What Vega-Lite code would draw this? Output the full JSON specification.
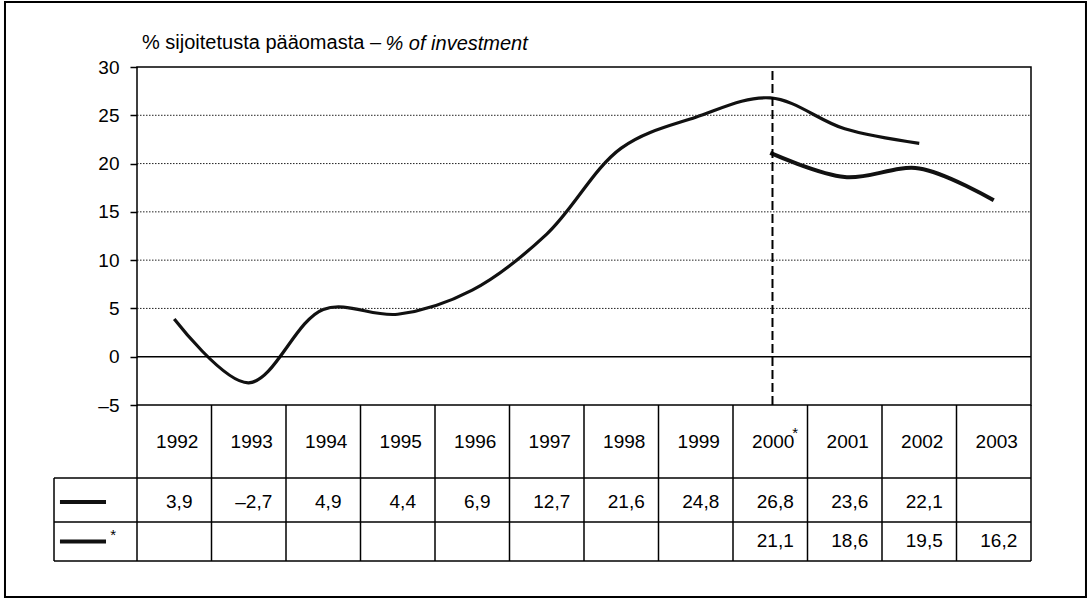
{
  "$schema": "https://vega.github.io/schema/vega-lite/v6.json",
  "width": 894,
  "height": 338,
  "autosize": {"type": "none"},
  "padding": {"left": 137, "top": 67, "right": 61, "bottom": 194},
  "background": "white",
  "config": {
    "font": "Liberation Sans",
    "view": {"stroke": "black", "strokeWidth": 1.5},
    "locale": {"number": {"decimal": ",", "thousands": "\u00a0", "grouping": [3], "currency": ["", " €"], "minus": "–"}}
  },
  "datasets": {
    "main": [
      {"year": 1992, "s1": 3.9, "s2": null},
      {"year": 1993, "s1": -2.7, "s2": null},
      {"year": 1994, "s1": 4.9, "s2": null},
      {"year": 1995, "s1": 4.4, "s2": null},
      {"year": 1996, "s1": 6.9, "s2": null},
      {"year": 1997, "s1": 12.7, "s2": null},
      {"year": 1998, "s1": 21.6, "s2": null},
      {"year": 1999, "s1": 24.8, "s2": null},
      {"year": 2000, "s1": 26.8, "s2": 21.1},
      {"year": 2001, "s1": 23.6, "s2": 18.6},
      {"year": 2002, "s1": 22.1, "s2": 19.5},
      {"year": 2003, "s1": null, "s2": 16.2}
    ],
    "grid": [{"v": 5}, {"v": 10}, {"v": 15}, {"v": 20}, {"v": 25}],
    "one": [{"k": 1}]
  },
  "layer": [
    {
      "data": {"name": "main"},
      "transform": [{"filter": "datum.s1 != null"}],
      "mark": {"type": "line", "color": "#111", "strokeWidth": 3.2, "interpolate": "catmull-rom"},
      "encoding": {
        "x": {"field": "year", "type": "quantitative", "scale": {"domain": [1991.5, 2003.5], "nice": false, "zero": false}, "axis": null},
        "y": {
          "field": "s1", "type": "quantitative",
          "scale": {"domain": [-5, 30], "nice": false, "zero": false},
          "axis": {
            "values": [-5, 0, 5, 10, 15, 20, 25, 30],
            "format": "d",
            "grid": false,
            "domain": false,
            "ticks": true,
            "tickSize": 7,
            "tickColor": "black",
            "tickWidth": 1.5,
            "labelFontSize": 19,
            "labelPadding": 11,
            "labelColor": "black",
            "title": "% of investment",
            "titleAngle": 0,
            "titleX": 248,
            "titleY": -24,
            "titleAlign": "left",
            "titleBaseline": "middle",
            "titleFontStyle": "italic",
            "titleFontWeight": "normal",
            "titleFontSize": 20,
            "titleColor": "black"
          }
        }
      }
    },
    {
      "data": {"name": "main"},
      "transform": [{"filter": "datum.s2 != null"}],
      "mark": {"type": "line", "color": "#111", "strokeWidth": 4, "interpolate": "catmull-rom"},
      "encoding": {"x": {"field": "year", "type": "quantitative"}, "y": {"field": "s2", "type": "quantitative"}}
    },
    {
      "data": {"name": "grid"},
      "mark": {"type": "rule", "color": "#222", "strokeWidth": 1, "strokeDash": [1.5, 1.5]},
      "encoding": {"x": {"datum": 1991.5}, "x2": {"datum": 2003.5}, "y": {"field": "v", "type": "quantitative"}}
    },
    {
      "data": {"name": "one"},
      "mark": {"type": "rule", "color": "black", "strokeWidth": 1.5},
      "encoding": {"x": {"datum": 1991.5}, "x2": {"datum": 2003.5}, "y": {"datum": 0}}
    },
    {
      "data": {"name": "one"},
      "mark": {"type": "rule", "color": "black", "strokeWidth": 2, "strokeDash": [9, 4]},
      "encoding": {"x": {"datum": 2000.03}, "y": {"datum": -5}, "y2": {"datum": 30}}
    },
    {
      "data": {"name": "main"},
      "mark": {"type": "rule", "color": "black", "strokeWidth": 1.5, "xOffset": 37.25},
      "encoding": {"x": {"field": "year", "type": "quantitative"}, "y": {"datum": -5}, "y2": {"datum": -21.15}}
    },
    {
      "data": {"name": "one"},
      "mark": {"type": "rule", "color": "black", "strokeWidth": 1.5},
      "encoding": {"x": {"datum": 1991.5}, "y": {"datum": -5}, "y2": {"datum": -21.15}}
    },
    {
      "data": {"name": "one"},
      "mark": {"type": "rule", "color": "black", "strokeWidth": 1.5},
      "encoding": {"x": {"datum": 1990.386}, "y": {"datum": -12.56}, "y2": {"datum": -21.15}}
    },
    {
      "data": {"name": "one"},
      "mark": {"type": "rule", "color": "black", "strokeWidth": 1.5},
      "encoding": {"x": {"datum": 1990.386}, "x2": {"datum": 2003.5}, "y": {"datum": -12.56}}
    },
    {
      "data": {"name": "one"},
      "mark": {"type": "rule", "color": "black", "strokeWidth": 1.5},
      "encoding": {"x": {"datum": 1990.386}, "x2": {"datum": 2003.5}, "y": {"datum": -17.12}}
    },
    {
      "data": {"name": "one"},
      "mark": {"type": "rule", "color": "black", "strokeWidth": 1.5},
      "encoding": {"x": {"datum": 1990.386}, "x2": {"datum": 2003.5}, "y": {"datum": -21.15}}
    },
    {
      "data": {"name": "main"},
      "mark": {"type": "text", "fontSize": 19, "color": "black", "baseline": "middle", "dx": 3},
      "encoding": {"x": {"field": "year", "type": "quantitative"}, "y": {"datum": -8.8}, "text": {"field": "year", "type": "nominal"}}
    },
    {
      "data": {"name": "main"},
      "transform": [{"filter": "datum.year == 2000"}],
      "mark": {"type": "text", "fontSize": 15, "color": "black", "baseline": "middle", "dx": 25, "dy": -9, "text": "*"},
      "encoding": {"x": {"field": "year", "type": "quantitative"}, "y": {"datum": -8.8}}
    },
    {
      "data": {"name": "main"},
      "transform": [{"filter": "datum.s1 != null"}],
      "mark": {"type": "text", "fontSize": 19, "color": "black", "baseline": "middle", "dx": 5},
      "encoding": {"x": {"field": "year", "type": "quantitative"}, "y": {"datum": -15.04}, "text": {"field": "s1", "type": "quantitative", "format": ".1f"}}
    },
    {
      "data": {"name": "main"},
      "transform": [{"filter": "datum.s2 != null"}],
      "mark": {"type": "text", "fontSize": 19, "color": "black", "baseline": "middle", "dx": 5},
      "encoding": {"x": {"field": "year", "type": "quantitative"}, "y": {"datum": -19.13}, "text": {"field": "s2", "type": "quantitative", "format": ".1f"}}
    },
    {
      "data": {"name": "one"},
      "mark": {"type": "rule", "color": "#111", "strokeWidth": 4},
      "encoding": {"x": {"datum": 1990.466}, "x2": {"datum": 1991.084}, "y": {"datum": -15.04}}
    },
    {
      "data": {"name": "one"},
      "mark": {"type": "rule", "color": "#111", "strokeWidth": 4},
      "encoding": {"x": {"datum": 1990.466}, "x2": {"datum": 1991.084}, "y": {"datum": -19.13}}
    },
    {
      "data": {"name": "one"},
      "mark": {"type": "text", "fontSize": 15, "color": "black", "baseline": "middle", "text": "*"},
      "encoding": {"x": {"datum": 1991.18}, "y": {"datum": -18.46}}
    },
    {
      "data": {"name": "one"},
      "mark": {"type": "rect", "filled": false, "stroke": "black", "strokeWidth": 2},
      "encoding": {"x": {"datum": 1989.728}, "x2": {"datum": 2004.238}, "y": {"datum": 36.73}, "y2": {"datum": -24.88}}
    },
    {
      "data": {"name": "one"},
      "mark": {"type": "text", "fontSize": 20, "color": "black", "baseline": "middle", "align": "left", "text": "% sijoitetusta pääomasta –"},
      "encoding": {"x": {"datum": 1991.567}, "y": {"datum": 32.5}}
    }
  ]
}
